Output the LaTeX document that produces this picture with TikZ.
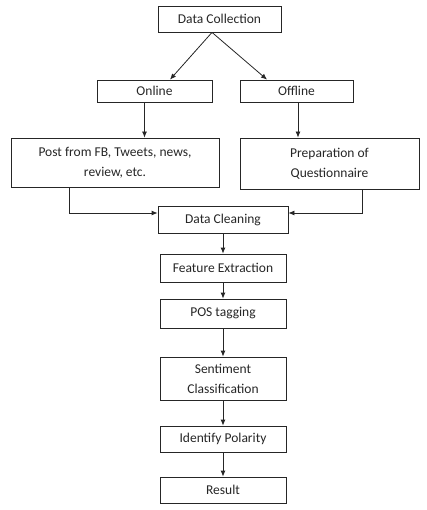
\documentclass[tikz,border=0pt]{standalone}
\usepackage{fontspec}
\setmainfont{Carlito}
\usetikzlibrary{
    positioning,
    arrows.meta
}
\tikzset{
    >={Latex[length=6pt,width=5pt]},
    box/.style={
        draw,
        align=center,
        inner sep=2pt,
        minimum height=26pt,
        font=\fontsize{13.5}{20}\selectfont
    },
    midbox/.style={
        box,
        minimum width=126pt
    }
}

\begin{document}
\begin{tikzpicture}[
    x=1pt, y=-1pt,
    line width=0.8pt,
    color=black!85
]
    \useasboundingbox (0,0) rectangle (426,510);

    % Fuentes de datos
    \node[box, minimum width=123pt]                    (dc)   at (219.5,19)  {Data Collection};
    \node[box, minimum width=115pt, minimum height=22pt] (on)   at (154.5,91)  {Online};
    \node[box, minimum width=113pt, minimum height=22pt] (off)  at (296.5,91)  {Offline};
    \node[box, minimum width=208pt, minimum height=49pt] (post) at (115,162.5) {Post from FB, Tweets, news,\\review, etc.};
    \node[box, minimum width=179pt, minimum height=51pt] (prep) at (329.5,163.5) {Preparation of\\Questionnaire};

    % Procesamiento
    \node[box, minimum width=130pt, minimum height=27pt] (clean) at (223,219.5) {Data Cleaning};
    \node[midbox, minimum height=28pt] (feat) at (223,268)   {Feature Extraction};
    \node[midbox, minimum height=29pt] (pos)  at (223,313.5) {POS tagging};
    \node[midbox, minimum height=43pt] (sent) at (223,378.5) {Sentiment\\Classification};
    \node[midbox]                      (pol)  at (223,439)   {Identify Polarity};
    \node[midbox]                      (res)  at (223,490)   {Result};

    \coordinate (split) at ([xshift=-7.5pt]dc.south);

    % Conexiones
    \draw[->] (split) -- ([xshift=15.5pt]on.north);
    \draw[->] (split) -- ([xshift=-29.5pt]off.north);
    \draw[->] ([xshift=-10pt]on.south) -- ([xshift=-10pt]on.south |- post.north);
    \draw[->] ([xshift=1.5pt]off.south) -- ([xshift=1.5pt]off.south |- prep.north);
    \draw[->] ([xshift=-46pt]post.south) |- ([yshift=6.5pt]clean.west);
    \draw[->] ([xshift=32.5pt]prep.south) |- ([yshift=6.5pt]clean.east);

    \path[->]
        (clean) edge (feat)
        (feat)  edge (pos)
        (pos)   edge (sent)
        (sent)  edge (pol)
        (pol)   edge (res);

\end{tikzpicture}
\end{document}
